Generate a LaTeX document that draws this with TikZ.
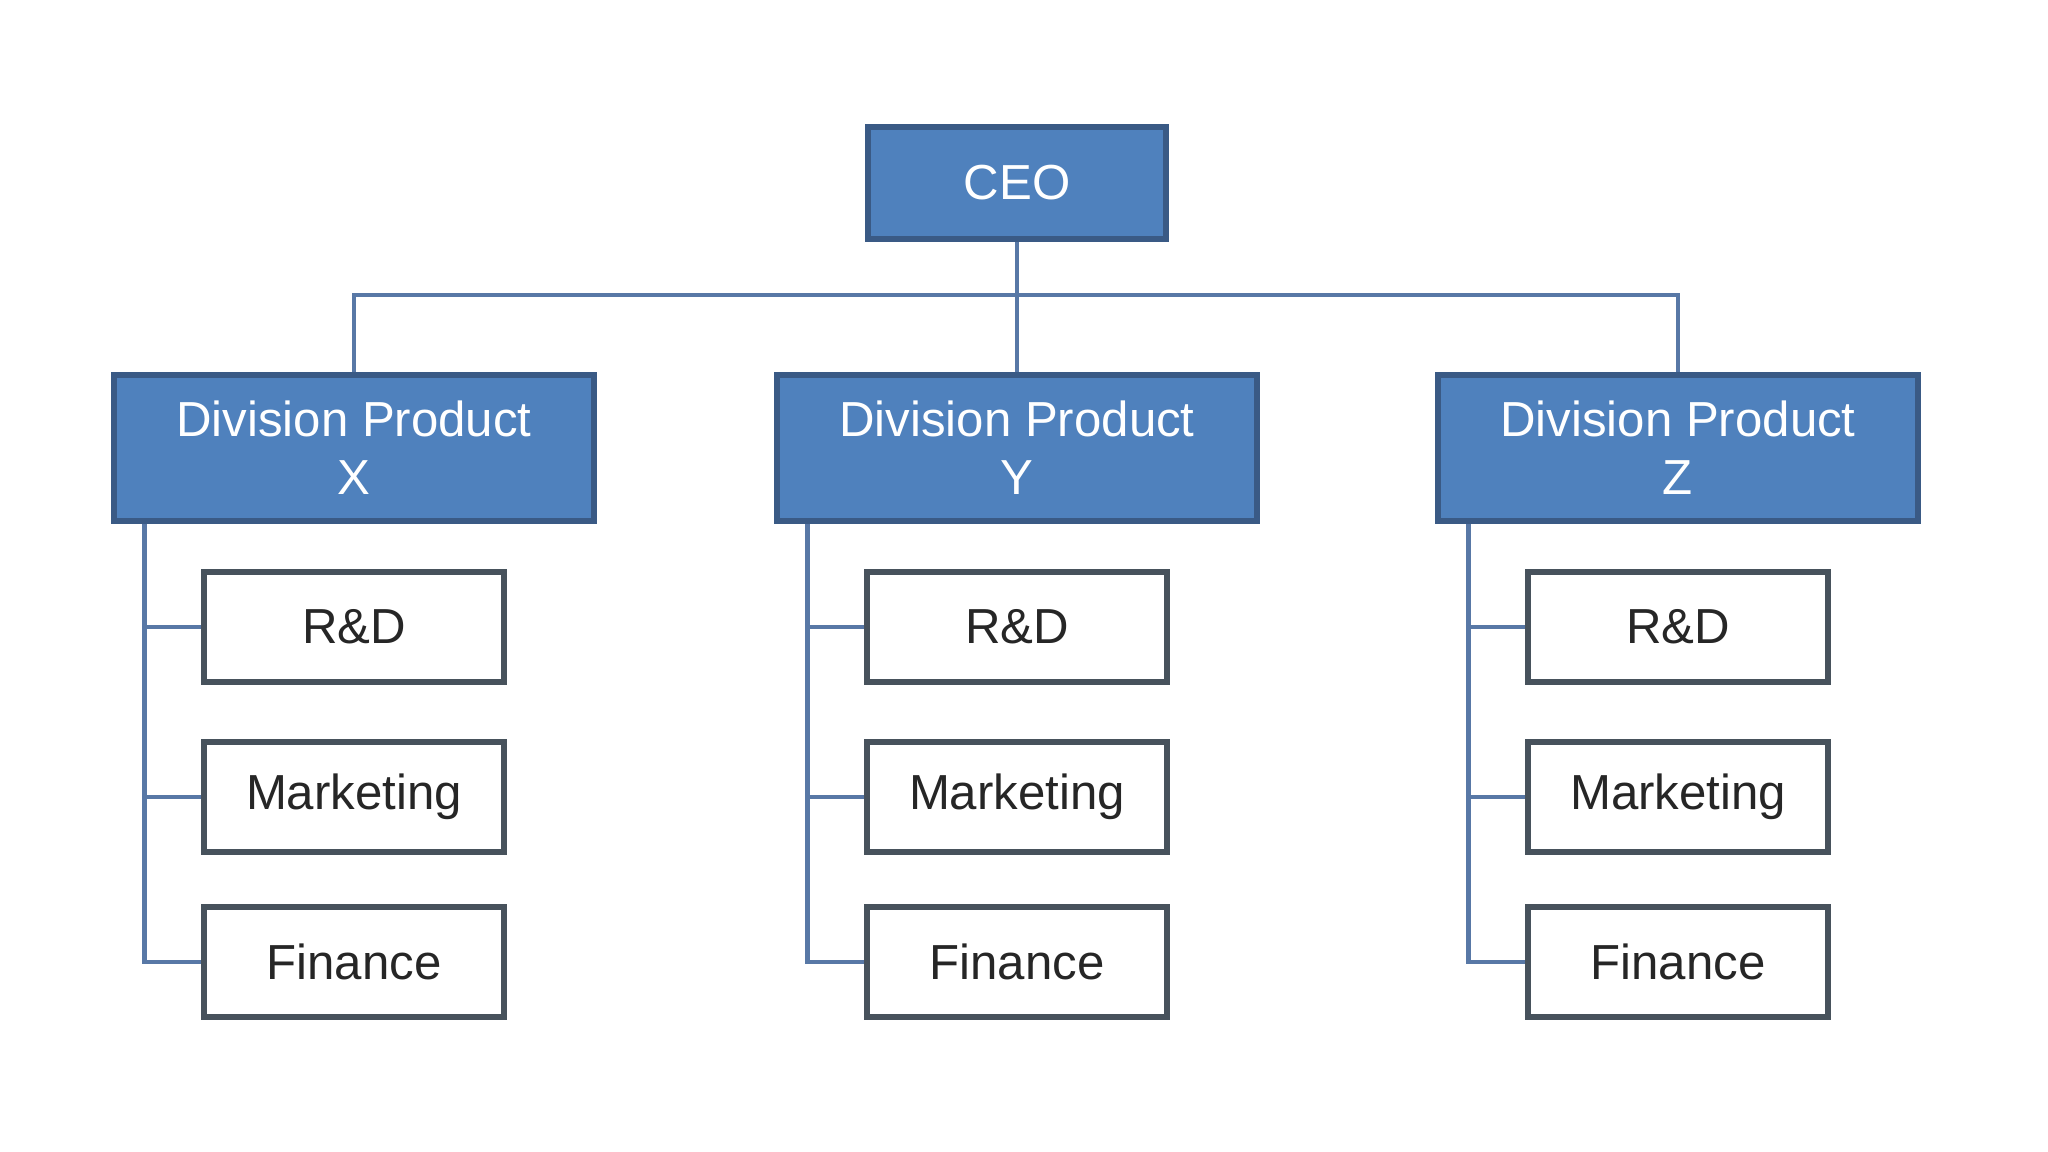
\documentclass[tikz,border=0pt]{standalone}
\usepackage{fontspec}
\setmainfont{Liberation Sans}
\usetikzlibrary{positioning}
\definecolor{boxBlue}{HTML}{4F81BD}
\definecolor{edgeBlue}{HTML}{3A5A85}
\definecolor{edgeGray}{HTML}{47525C}
\definecolor{lineBlue}{HTML}{5878A6}

\begin{document}
\begin{tikzpicture}[x=0.02cm,y=-0.02cm,
  head/.style={draw=edgeBlue,line width=3.4pt,fill=boxBlue,text=white,
    minimum width=5.95cm,minimum height=2.24cm,font=\fontsize{28}{33}\selectfont},
  division/.style={head,minimum width=9.6cm,minimum height=2.92cm,align=center},
  unit/.style={draw=edgeGray,line width=3.4pt,fill=white,text=black!85,
    minimum width=6.0cm,minimum height=2.2cm,font=\fontsize{28}{33}\selectfont},
  link/.style={draw=lineBlue,line width=2.8pt}]
\useasboundingbox (0,0) rectangle (2048,1152);
% top
\node[head] (ceo) at (1017,183) {CEO};
\coordinate (bus) at (1017,295);
% divisions with their units
\foreach \n/\cx in {X/354,Y/1017,Z/1678}{
  \node[division] (div\n) at (\cx,448) {Division Product\\\n};
  \node[unit] (rd\n) at (\cx,627) {R\&D};
  \node[unit] (mk\n) at (\cx,797) {Marketing};
  \node[unit] (fin\n) at (\cx,962) {Finance};
  \coordinate (sp\n) at ([xshift=0.66cm]div\n.south west);
  \draw[link] (sp\n) |- (fin\n.west);
  \draw[link] (rd\n.west) -- (rd\n.west -| sp\n);
  \draw[link] (mk\n.west) -- (mk\n.west -| sp\n);
}
% ceo to divisions
\draw[link] (ceo.south) -- (divY.north);
\draw[link] (divX.north) |- (bus) -| (divZ.north);
\end{tikzpicture}
\end{document}
